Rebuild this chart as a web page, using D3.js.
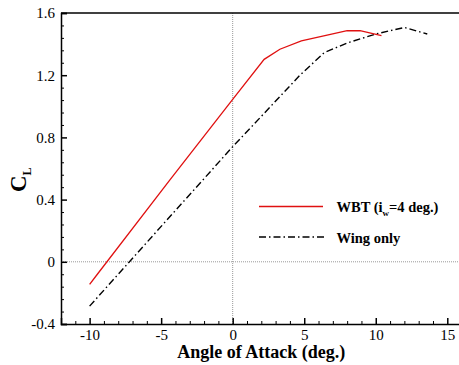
<!DOCTYPE html>
<html>
<head>
<meta charset="utf-8">
<script src="https://cdn.jsdelivr.net/npm/d3@7"></script>
<style>
  body { margin: 0; background: #fff; }
  svg { display: block; }
</style>
</head>
<body>
<svg class="chart" width="459" height="365"></svg>
<script>
// angle of attack (deg.) and lift coefficient
const wbtAlpha = [-10, -9.5, -4.4, 0, 2.2, 3.3, 4.8, 6.6, 8, 8.9, 10.4];
const wbtCL = [-0.145, -0.085, 0.525, 1.045, 1.302, 1.367, 1.42, 1.458, 1.486, 1.486, 1.454];
const wingAlpha = [-10, 0, 2.15, 4.7, 6.4, 8, 10, 12, 13.6];
const wingCL = [-0.285, 0.74, 0.95, 1.2, 1.345, 1.407, 1.465, 1.507, 1.465];
const xTicks = [-10, -5, 0, 5, 10, 15];
const yTicks = [-0.4, 0, 0.4, 0.8, 1.2, 1.6];

const width = 459, height = 365;
const plot = { left: 61, right: 461.6, top: 13, bottom: 324 };
const font = '"Liberation Serif", "Times New Roman", serif';

const svg = d3.select('.chart');

const xScale = d3.scaleLinear().domain([-12, 16]).range([plot.left, plot.right]);
const yScale = d3.scaleLinear().domain([-0.4, 1.6]).range([plot.bottom, plot.top]);

// dotted zero lines
svg.append('line')
    .attr('x1', xScale(0)).attr('x2', xScale(0))
    .attr('y1', plot.top).attr('y2', plot.bottom)
    .style('stroke', '#999').style('stroke-width', 1).style('stroke-dasharray', '1,1');
svg.append('line')
    .attr('x1', plot.left).attr('x2', width)
    .attr('y1', yScale(0)).attr('y2', yScale(0))
    .style('stroke', '#999').style('stroke-width', 1).style('stroke-dasharray', '1,1');

// minor ticks
const xMinor = d3.range(-12, 17, 1).filter(v => !xTicks.includes(v));
const yMinor = d3.range(-0.4, 1.61, 0.08).map(v => +v.toFixed(2)).filter(v => !yTicks.some(t => Math.abs(t - v) < 1e-6));

svg.append('g')
    .attr('transform', `translate(0,${plot.bottom})`)
    .call(d3.axisBottom(xScale).tickValues(xMinor).tickSize(-3).tickFormat(''))
    .call(g => g.select('.domain').remove());
svg.append('g')
    .attr('transform', `translate(${plot.left},0)`)
    .call(d3.axisLeft(yScale).tickValues(yMinor).tickSize(-3).tickFormat(''))
    .call(g => g.select('.domain').remove());

// major axes
const fmtTick = d => String(d).replace('\u2212', '-');
const xAxis = svg.append('g')
    .attr('transform', `translate(0,${plot.bottom})`)
    .call(d3.axisBottom(xScale).tickValues(xTicks).tickSize(-6).tickPadding(5).tickFormat(d => fmtTick(d)));
const yAxis = svg.append('g')
    .attr('transform', `translate(${plot.left},0)`)
    .call(d3.axisLeft(yScale).tickValues(yTicks).tickSize(-6).tickPadding(6)
        .tickFormat(d => d === 0 ? '0' : d.toFixed(1)));

[xAxis, yAxis].forEach(ax => {
    ax.attr('font-family', font).attr('font-size', 15);
    ax.selectAll('.domain').style('stroke', '#000').style('stroke-width', 1.5);
    ax.selectAll('.tick line').style('stroke', '#000').style('stroke-width', 1.5);
    ax.selectAll('.tick text').style('font-family', font).style('font-size', '15px').style('fill', '#000');
});
svg.selectAll('.tick line').style('stroke', '#000');

// top border
svg.append('line')
    .attr('x1', plot.left).attr('x2', width)
    .attr('y1', plot.top).attr('y2', plot.top)
    .style('stroke', '#000').style('stroke-width', 1.5);

const line = d3.line()
    .x(d => xScale(d[0]))
    .y(d => yScale(d[1]));

const wbtData = wbtAlpha.map((a, i) => [a, wbtCL[i]]);
const wingData = wingAlpha.map((a, i) => [a, wingCL[i]]);

svg.append('path')
    .datum(wingData)
    .attr('d', line)
    .style('fill', 'none')
    .style('stroke', '#000')
    .style('stroke-width', 1.4)
    .style('stroke-dasharray', '7,3,1.5,3');

svg.append('path')
    .datum(wbtData)
    .attr('d', line)
    .style('fill', 'none')
    .style('stroke', '#e01010')
    .style('stroke-width', 1.3);

// legend
const legend = svg.append('g');
legend.append('line')
    .attr('x1', 259).attr('x2', 323).attr('y1', 206.5).attr('y2', 206.5)
    .style('stroke', '#e01010').style('stroke-width', 1.3);
const t1 = legend.append('text')
    .attr('x', 336.5).attr('y', 212)
    .style('font-family', font).style('font-weight', 'bold').style('font-size', '14.5px');
t1.append('tspan').text('WBT (i');
t1.append('tspan').attr('dy', 4).style('font-size', '9px').text('w');
t1.append('tspan').attr('dy', -4).text('=4 deg.)');

legend.append('line')
    .attr('x1', 259).attr('x2', 326).attr('y1', 237).attr('y2', 237)
    .style('stroke', '#000').style('stroke-width', 1.4).style('stroke-dasharray', '7,3,1.5,3');
legend.append('text')
    .attr('x', 336.5).attr('y', 242.5)
    .style('font-family', font).style('font-weight', 'bold').style('font-size', '14.5px')
    .text('Wing only');

// axis titles
svg.append('text')
    .attr('x', (plot.left + plot.right) / 2).attr('y', 358)
    .attr('text-anchor', 'middle')
    .style('font-family', font).style('font-weight', 'bold').style('font-size', '18px')
    .text('Angle of Attack (deg.)');

const yTitle = svg.append('text')
    .attr('transform', 'translate(26,192) rotate(-90)')
    .style('font-family', font).style('font-weight', 'bold').style('font-size', '23px');
yTitle.append('tspan').text('C');
yTitle.append('tspan').attr('dy', 5).style('font-size', '12px').text('L');
</script>
</body>
</html>
